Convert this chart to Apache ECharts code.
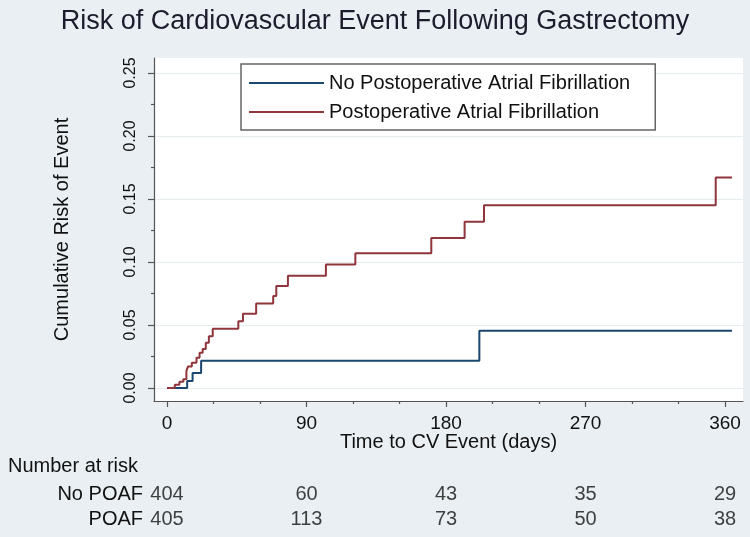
<!DOCTYPE html>
<html>
<head>
<meta charset="utf-8">
<script src="https://cdn.jsdelivr.net/npm/echarts@6/dist/echarts.min.js"></script>
<style>
html,body{margin:0;padding:0;background:#e9eff2;}
#chart{width:750px;height:537px;}
</style>
</head>
<body>
<div id="chart"></div>
<script>
// ---- data ----
const chartTitle = 'Risk of Cardiovascular Event Following Gastrectomy';
const seriesNames = ['No Postoperative Atrial Fibrillation', 'Postoperative Atrial Fibrillation'];
const groupLabels = ['No POAF', 'POAF'];

const xTickLabels = [0, 90, 180, 270, 360];
const xMinorTicks = [30, 60, 120, 150, 210, 240, 300, 330];
const yTickLabels = [0, 0.05, 0.10, 0.15, 0.20, 0.25];
const yMinorTicks = [0.025, 0.075, 0.125, 0.175, 0.225];

const daysNoPOAF = [0, 13, 16.5, 22, 201.5, 364.5];
const riskNoPOAF = [0, 0.0055, 0.012, 0.0217, 0.0455, 0.0455];

const daysPOAF = [0, 5, 8, 10.5, 12.5, 13.5, 16, 19, 21, 23, 25, 27, 29.5, 46, 49, 57.5, 68.5, 70.5, 78, 102.5, 121.5, 170.5, 192, 204.5, 354, 364.5];
const riskPOAF = [0, 0.0025, 0.005, 0.007, 0.0135, 0.017, 0.020, 0.024, 0.028, 0.031, 0.036, 0.041, 0.047, 0.053, 0.059, 0.067, 0.073, 0.081, 0.089, 0.098, 0.107, 0.119, 0.132, 0.145, 0.167, 0.167];

const riskTableDays = [0, 90, 180, 270, 360];
const atRiskNoPOAF = [404, 60, 43, 35, 29];
const atRiskPOAF = [405, 113, 73, 50, 38];

// ---- chart ----
const X_MIN = -8.4, X_MAX = 371.6;
const Y_MIN = -0.0103, Y_MAX = 0.2619;
const FONT = '"Liberation Sans", Arial, sans-serif';
const TXT = '#111111';
const AXC = '#555555';

const zip = (a, b) => a.map((v, i) => [v, b[i]]);
const tableData = [];
riskTableDays.forEach((d, i) => {
  tableData.push([d, groupLabels[0], atRiskNoPOAF[i]]);
  tableData.push([d, groupLabels[1], atRiskPOAF[i]]);
});

const chart = echarts.init(document.getElementById('chart'), null, {renderer: 'canvas'});
chart.setOption({
  backgroundColor: '#e9eff2',
  animation: false,
  textStyle: {fontFamily: FONT},
  title: {
    text: chartTitle, left: 'center', top: 8, padding: 0,
    textStyle: {fontFamily: FONT, fontSize: 27, fontWeight: 'normal', color: '#1c1c2c'}
  },
  legend: {
    data: seriesNames, orient: 'vertical', left: 241, top: 64,
    icon: 'rect',
    padding: [9, 25, 8, 8], itemWidth: 75, itemHeight: 2, itemGap: 9,
    backgroundColor: '#ffffff', borderColor: '#666666', borderWidth: 1.5,
    textStyle: {fontFamily: FONT, fontSize: 20, color: TXT, lineHeight: 20},
    selectedMode: false
  },
  graphic: [{
    type: 'text', left: 8, top: 456,
    style: {text: 'Number at risk', fontFamily: FONT, fontSize: 20, fill: TXT}
  }],
  grid: [
    {left: 154, right: 7, top: 58, bottom: 136, show: true, backgroundColor: '#ffffff', borderWidth: 0},
    {left: 154, right: 7, top: 482, height: 50}
  ],
  xAxis: [
    {
      type: 'value', gridIndex: 0, min: X_MIN, max: X_MAX, position: 'bottom',
      name: 'Time to CV Event (days)', nameLocation: 'middle', nameGap: 31, nameMoveOverlap: false,
      nameTextStyle: {fontFamily: FONT, fontSize: 20, color: TXT},
      axisLine: {show: true, onZero: false, lineStyle: {color: AXC, width: 1.2}},
      axisTick: {show: true, customValues: xTickLabels, length: 6, lineStyle: {color: AXC, width: 1.2}},
      axisLabel: {show: true, customValues: xTickLabels, fontFamily: FONT, fontSize: 19, color: TXT, margin: 13},
      splitLine: {show: false}
    },
    {
      type: 'value', gridIndex: 0, min: X_MIN, max: X_MAX, position: 'bottom', offset: 0,
      axisLine: {show: false, onZero: false},
      axisTick: {show: true, customValues: xMinorTicks, length: 3, lineStyle: {color: AXC, width: 1.2}},
      axisLabel: {show: false}, splitLine: {show: false}
    },
    {type: 'value', gridIndex: 1, min: X_MIN, max: X_MAX, show: false}
  ],
  yAxis: [
    {
      type: 'value', gridIndex: 0, min: Y_MIN, max: Y_MAX, position: 'left',
      name: 'Cumulative Risk of Event', nameLocation: 'middle', nameGap: 82,
      nameTextStyle: {fontFamily: FONT, fontSize: 20, color: TXT},
      axisLine: {show: true, onZero: false, lineStyle: {color: AXC, width: 1.2}},
      axisTick: {show: true, customValues: yTickLabels, length: 6, lineStyle: {color: AXC, width: 1.2}},
      axisLabel: {show: true, customValues: yTickLabels, rotate: 90, fontFamily: FONT, fontSize: 16, color: TXT, margin: 15,
        formatter: v => Number(v).toFixed(2)},
      splitLine: {show: true, lineStyle: {color: '#e4ecef', width: 1.2}}
    },
    {
      type: 'value', gridIndex: 0, min: Y_MIN, max: Y_MAX, position: 'left', offset: 0,
      axisLine: {show: false, onZero: false},
      axisTick: {show: true, customValues: yMinorTicks, length: 3, lineStyle: {color: AXC, width: 1.2}},
      axisLabel: {show: false}, splitLine: {show: false}
    },
    {
      type: 'category', gridIndex: 1, data: groupLabels, inverse: true,
      axisLine: {show: false}, axisTick: {show: false}, splitLine: {show: false},
      axisLabel: {interval: 0, hideOverlap: false, fontFamily: FONT, fontSize: 20, color: TXT, margin: 11}
    }
  ],
  series: [
    {
      name: seriesNames[0], type: 'line', xAxisIndex: 0, yAxisIndex: 0, step: 'end',
      symbol: 'none', data: zip(daysNoPOAF, riskNoPOAF),
      lineStyle: {color: '#1a476f', width: 2}, itemStyle: {color: '#1a476f'}
    },
    {
      name: seriesNames[1], type: 'line', xAxisIndex: 0, yAxisIndex: 0, step: 'end',
      symbol: 'none', data: zip(daysPOAF, riskPOAF),
      lineStyle: {color: '#90353b', width: 2}, itemStyle: {color: '#90353b'}
    },
    {
      type: 'scatter', xAxisIndex: 2, yAxisIndex: 2, symbolSize: 0, silent: true,
      data: tableData,
      label: {show: true, position: 'inside', formatter: p => String(p.value[2]),
        fontFamily: FONT, fontSize: 20, color: TXT}
    }
  ]
});
</script>
</body>
</html>
